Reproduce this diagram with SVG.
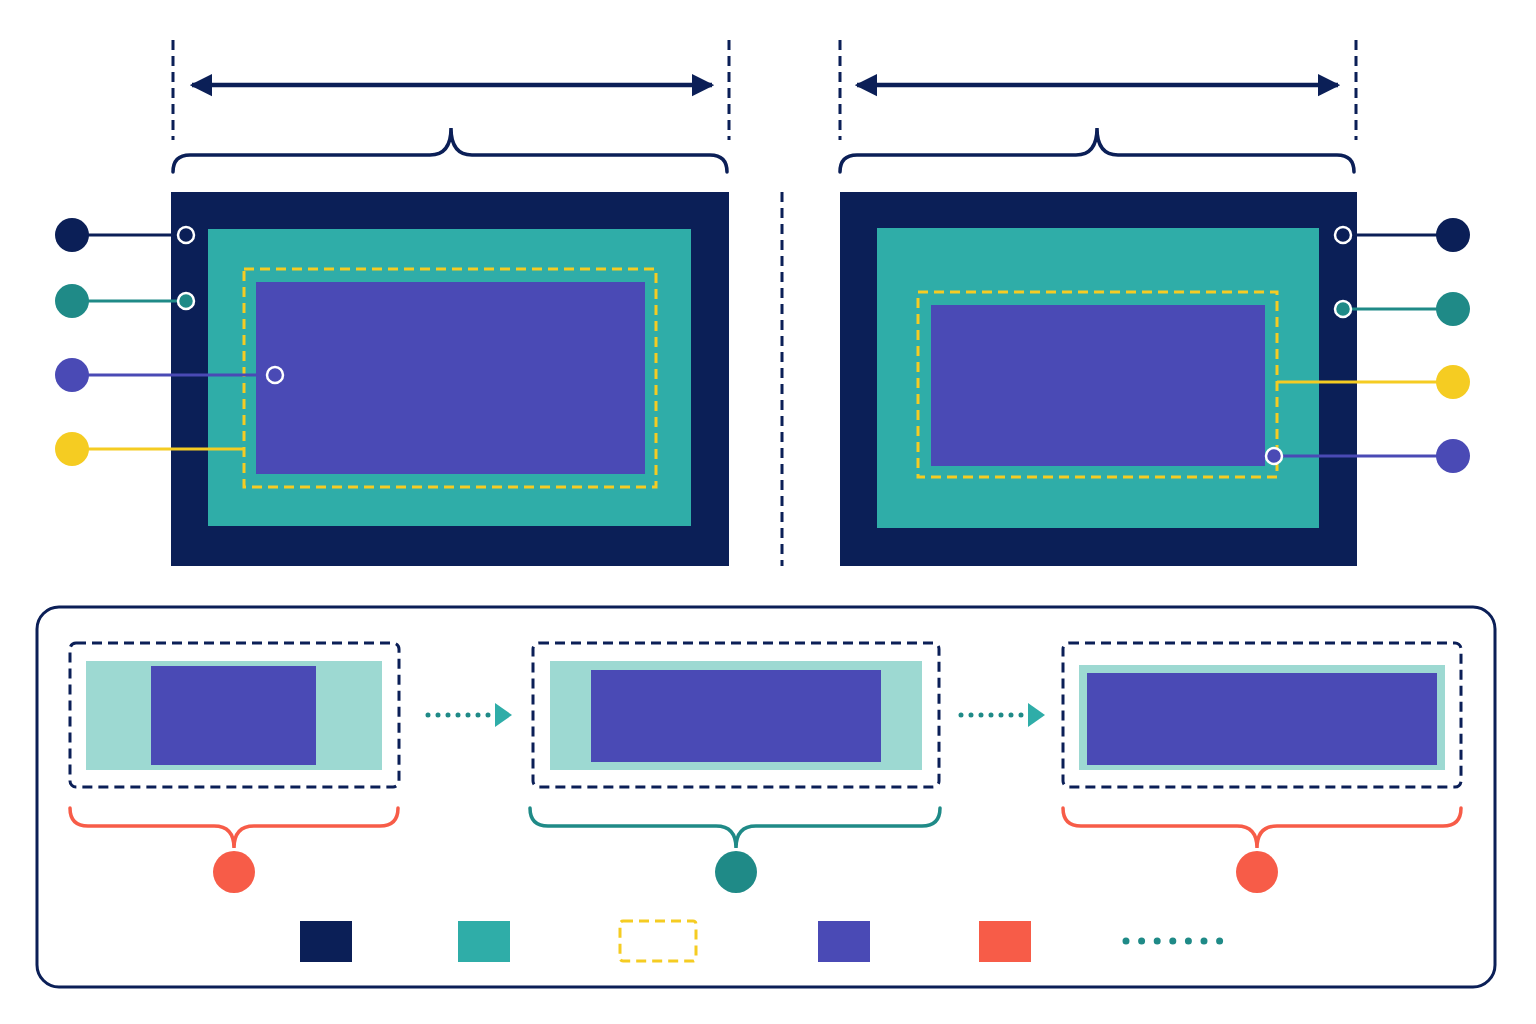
<svg xmlns="http://www.w3.org/2000/svg" width="1536" height="1024" viewBox="0 0 1536 1024">
<style>
.nv{fill:#0b1f57}.tl{fill:#2fada8}.pu{fill:#4a4ab5}.lt{fill:#9dd9d2}
.yd{fill:none;stroke:#f5cc22;stroke-width:3;stroke-dasharray:10 6}
.nd{fill:none;stroke:#0b1f57;stroke-width:3;stroke-dasharray:10 6}
.br{fill:none;stroke-width:3.5;stroke-linecap:round}
.oc{stroke:#fff;stroke-width:2.5}
.dot{fill:none;stroke:#1f8a87;stroke-width:5;stroke-linecap:round;stroke-dasharray:0 10}
</style>
<defs>
<marker id="ah" viewBox="0 0 10 10" refX="9" refY="5" markerWidth="5" markerHeight="6" orient="auto-start-reverse" markerUnits="strokeWidth"><path d="M0,0L10,5L0,10z" fill="#0b1f57"/></marker>
</defs>
<rect width="1536" height="1024" fill="#fff"/>
<g id="dims">
<line x1="173" y1="40" x2="173" y2="140" class="nd"/><line x1="729" y1="40" x2="729" y2="140" class="nd"/>
<line x1="192" y1="85" x2="712" y2="85" stroke="#0b1f57" stroke-width="4.5" marker-start="url(#ah)" marker-end="url(#ah)"/>
<path class="br" stroke="#0b1f57" d="M173,172 Q173,155 190,155 L430,155 Q451,155 451,128 Q451,155 472,155 L710,155 Q727,155 727,172"/>
<line x1="840" y1="40" x2="840" y2="140" class="nd"/><line x1="1356" y1="40" x2="1356" y2="140" class="nd"/>
<line x1="857" y1="85" x2="1338" y2="85" stroke="#0b1f57" stroke-width="4.5" marker-start="url(#ah)" marker-end="url(#ah)"/>
<path class="br" stroke="#0b1f57" d="M840,172 Q840,155 857,155 L1076,155 Q1097,155 1097,128 Q1097,155 1118,155 L1337,155 Q1354,155 1354,172"/>
<line x1="782" y1="192" x2="782" y2="566" class="nd"/>
</g>
<g id="left-panel">
<rect x="171" y="192" width="558" height="374" class="nv"/>
<rect x="208" y="229" width="483" height="297" class="tl"/>
<rect x="244" y="269" width="412" height="218" class="yd"/>
<rect x="256" y="282" width="389" height="192" class="pu"/>
</g>
<g id="right-panel">
<rect x="840" y="192" width="517" height="374" class="nv"/>
<rect x="877" y="228" width="442" height="300" class="tl"/>
<rect x="918" y="292" width="359" height="185" class="yd"/>
<rect x="931" y="305" width="334" height="161" class="pu"/>
</g>
<g id="callouts">
<line x1="72" y1="235" x2="186" y2="235" stroke="#0b1f57" stroke-width="3"/><circle cx="72" cy="235" r="17" class="nv"/><circle cx="186" cy="235" r="8" class="oc" fill="#0b1f57"/>
<line x1="72" y1="301" x2="186" y2="301" stroke="#1f8a87" stroke-width="3"/><circle cx="72" cy="301" r="17" fill="#1f8a87"/><circle cx="186" cy="301" r="8" class="oc" fill="#1f8a87"/>
<line x1="72" y1="375" x2="275" y2="375" stroke="#4a4ab5" stroke-width="3"/><circle cx="72" cy="375" r="17" class="pu"/><circle cx="275" cy="375" r="8" class="oc" fill="#4a4ab5"/>
<line x1="72" y1="449" x2="244" y2="449" stroke="#f5cc22" stroke-width="3"/><circle cx="72" cy="449" r="17" fill="#f5cc22"/>
<line x1="1343" y1="235" x2="1453" y2="235" stroke="#0b1f57" stroke-width="3"/><circle cx="1453" cy="235" r="17" class="nv"/><circle cx="1343" cy="235" r="8" class="oc" fill="#0b1f57"/>
<line x1="1343" y1="309" x2="1453" y2="309" stroke="#1f8a87" stroke-width="3"/><circle cx="1453" cy="309" r="17" fill="#1f8a87"/><circle cx="1343" cy="309" r="8" class="oc" fill="#1f8a87"/>
<line x1="1277" y1="382" x2="1453" y2="382" stroke="#f5cc22" stroke-width="3"/><circle cx="1453" cy="382" r="17" fill="#f5cc22"/>
<line x1="1274" y1="456" x2="1453" y2="456" stroke="#4a4ab5" stroke-width="3"/><circle cx="1453" cy="456" r="17" class="pu"/><circle cx="1274" cy="456" r="8" class="oc" fill="#4a4ab5"/>
</g>
<g id="bottom">
<rect x="37" y="607" width="1458" height="380" rx="22" fill="none" stroke="#0b1f57" stroke-width="3"/>
<g id="step1"><rect x="70" y="643" width="329" height="144" rx="6" class="nd"/><rect x="86" y="661" width="296" height="109" class="lt"/><rect x="151" y="666" width="165" height="99" class="pu"/></g>
<g id="step2"><rect x="533" y="643" width="406" height="144" rx="6" class="nd"/><rect x="550" y="661" width="372" height="109" class="lt"/><rect x="591" y="670" width="290" height="92" class="pu"/></g>
<g id="step3"><rect x="1063" y="643" width="398" height="144" rx="6" class="nd"/><rect x="1079" y="665" width="366" height="105" class="lt"/><rect x="1087" y="673" width="350" height="92" class="pu"/></g>
<g id="arrows">
<line x1="428" y1="715" x2="490" y2="715" class="dot"/><path d="M495,703L512,715L495,727z" fill="#2fada8"/>
<line x1="961" y1="715" x2="1023" y2="715" class="dot"/><path d="M1028,703L1045,715L1028,727z" fill="#2fada8"/>
</g>
<path class="br" stroke="#f75c48" d="M70,808 Q70,826 88,826 L214,826 Q234,826 234,848 Q234,826 254,826 L380,826 Q398,826 398,808"/>
<circle cx="234" cy="872" r="21" fill="#f75c48"/>
<path class="br" stroke="#1f8a87" d="M530,808 Q530,826 548,826 L716,826 Q736,826 736,848 Q736,826 756,826 L922,826 Q940,826 940,808"/>
<circle cx="736" cy="872" r="21" fill="#1f8a87"/>
<path class="br" stroke="#f75c48" d="M1063,808 Q1063,826 1081,826 L1237,826 Q1257,826 1257,848 Q1257,826 1277,826 L1443,826 Q1461,826 1461,808"/>
<circle cx="1257" cy="872" r="21" fill="#f75c48"/>
<g id="legend">
<rect x="300" y="921" width="52" height="41" class="nv"/>
<rect x="458" y="921" width="52" height="41" class="tl"/>
<rect x="620" y="921" width="76" height="40" rx="3" class="yd"/>
<rect x="818" y="921" width="52" height="41" class="pu"/>
<rect x="979" y="921" width="52" height="41" fill="#f75c48"/>
<line x1="1126" y1="941" x2="1220" y2="941" class="dot" style="stroke-width:7;stroke-dasharray:0 15.6"/>
</g>
</g>
</svg>
